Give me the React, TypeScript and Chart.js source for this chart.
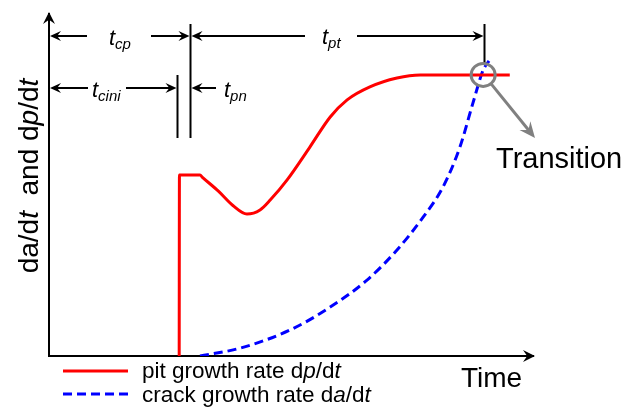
import React, { useEffect, useRef } from "react";
import { Chart, registerables } from "chart.js";

Chart.register(...registerables);

// ---- data (time in arbitrary units 0..100, rate in arbitrary units 0..100) ----
const pitTime = [26.9, 26.95, 31.2, 31.7, 35.0, 38.0, 40.9, 43.6, 45.7, 49.2, 53.9, 58.1, 61.6, 66.3, 71.9, 76.7, 95.2];
const pitRate = [0, 52.9, 52.9, 52.25, 48.2, 44.0, 41.5, 42.7, 45.6, 51.5, 61.1, 69.9, 74.9, 78.7, 81.3, 82.2, 82.2];
const crackTime = [31.2, 39.5, 49.8, 58.1, 65.7, 71.9, 77.3, 81.4, 84.9, 87.6, 89.7, 90.9];
const crackRate = [0, 2.3, 7.6, 14.3, 22.2, 31.0, 40.6, 49.4, 61.1, 74.0, 83.6, 86.3];
const seriesLabels = ["pit growth rate dp/dt", "crack growth rate da/dt"];
// characteristic times: end of t_cini, end of t_cp (= end of t_pn), end of t_pt
const markerTimes = [26.45, 29.13, 89.9];
const transitionPoint = [89.7, 82.2];

const FONT = '"Liberation Sans", Arial, Helvetica, sans-serif';
const RED = "#ff0000";
const BLUE = "#0000ff";
const GRAY = "#808080";

type Part = { t: string; i?: boolean; s?: number; dy?: number };

function rich(ctx: CanvasRenderingContext2D, x: number, y: number, parts: Part[], size: number) {
  let cx = x;
  for (const p of parts) {
    ctx.font = `${p.i ? "italic " : ""}${p.s || size}px ${FONT}`;
    ctx.fillText(p.t, cx, y + (p.dy || 0));
    cx += ctx.measureText(p.t).width;
  }
  return cx;
}
function richWidth(ctx: CanvasRenderingContext2D, parts: Part[], size: number) {
  let w = 0;
  for (const p of parts) {
    ctx.font = `${p.i ? "italic " : ""}${p.s || size}px ${FONT}`;
    w += ctx.measureText(p.t).width;
  }
  return w;
}

function head(ctx: CanvasRenderingContext2D, x: number, y: number, ang: number, color: string, len = 11, w = 10) {
  ctx.save();
  ctx.translate(x, y);
  ctx.rotate(ang);
  ctx.beginPath();
  ctx.moveTo(0, 0);
  ctx.lineTo(-len, -w / 2);
  ctx.lineTo(-len * 0.65, 0);
  ctx.lineTo(-len, w / 2);
  ctx.closePath();
  ctx.fillStyle = color;
  ctx.fill();
  ctx.restore();
}

function line(ctx: CanvasRenderingContext2D, x1: number, y1: number, x2: number, y2: number, color = "#000", w = 2) {
  ctx.beginPath();
  ctx.moveTo(x1, y1);
  ctx.lineTo(x2, y2);
  ctx.strokeStyle = color;
  ctx.lineWidth = w;
  ctx.stroke();
}

const annotationPlugin = {
  id: "schematic",
  afterDraw(chart: any) {
    const ctx: CanvasRenderingContext2D = chart.ctx;
    const xs = chart.scales.x;
    const ys = chart.scales.y;
    const ca = chart.chartArea;
    ctx.save();
    ctx.textBaseline = "alphabetic";
    ctx.fillStyle = "#000";

    // axis arrowheads
    head(ctx, ca.left, ca.top - 2, -Math.PI / 2, "#000", 12, 12);
    head(ctx, ca.right + 2, ca.bottom, 0, "#000", 12, 12);

    const xCini = Math.round(xs.getPixelForValue(markerTimes[0])) + 0.5;
    const xCp = Math.round(xs.getPixelForValue(markerTimes[1])) + 0.5;
    const xPt = Math.round(xs.getPixelForValue(markerTimes[2])) + 0.5;
    const left = ca.left;

    // vertical marker lines
    line(ctx, xCini, 75, xCini, 138);
    line(ctx, xCp, 24, xCp, 138);
    line(ctx, xPt, 24, xPt, 63);

    const r1 = 36;
    const r2 = 88;
    // row 1 : t_cp and t_pt
    line(ctx, left + 3, r1, 87, r1);
    head(ctx, left + 1, r1, Math.PI, "#000");
    line(ctx, 151, r1, xCp - 4, r1);
    head(ctx, xCp - 1, r1, 0, "#000");
    line(ctx, xCp + 4, r1, 305, r1);
    head(ctx, xCp + 1, r1, Math.PI, "#000");
    line(ctx, 357, r1, xPt - 4, r1);
    head(ctx, xPt - 1, r1, 0, "#000");

    // row 2 : t_cini and t_pn
    line(ctx, left + 3, r2, 88, r2);
    head(ctx, left + 1, r2, Math.PI, "#000");
    line(ctx, 126, r2, xCini - 4, r2);
    head(ctx, xCini - 1, r2, 0, "#000");
    line(ctx, xCp + 4, r2, 216, r2);
    head(ctx, xCp + 1, r2, Math.PI, "#000");

    ctx.fillStyle = "#000";
    rich(ctx, 109, 45, [{ t: "t", i: true }, { t: "cp", i: true, s: 15, dy: 4 }], 22);
    rich(ctx, 322, 44, [{ t: "t", i: true }, { t: "pt", i: true, s: 15, dy: 4 }], 22);
    rich(ctx, 92, 97, [{ t: "t", i: true }, { t: "cini", i: true, s: 15, dy: 4 }], 22);
    rich(ctx, 224, 97, [{ t: "t", i: true }, { t: "pn", i: true, s: 15, dy: 4 }], 22);

    // transition marker
    const cx = xs.getPixelForValue(transitionPoint[0]);
    const cy = ys.getPixelForValue(transitionPoint[1]);
    ctx.beginPath();
    ctx.ellipse(cx, cy, 12, 11.5, 0, 0, Math.PI * 2);
    ctx.strokeStyle = GRAY;
    ctx.lineWidth = 3;
    ctx.stroke();
    const tx = 535, ty = 138;
    const sx = cx + 8, sy = cy + 9;
    const ang = Math.atan2(ty - sy, tx - sx);
    line(ctx, sx, sy, tx - 8 * Math.cos(ang), ty - 8 * Math.sin(ang), GRAY, 3);
    head(ctx, tx, ty, ang, GRAY, 16, 14);
    ctx.fillStyle = "#000";
    ctx.font = `29px ${FONT}`;
    ctx.fillText("Transition", 496, 168);

    // axis titles
    ctx.font = `28px ${FONT}`;
    ctx.fillText("Time", 461, 387);
    const yParts: Part[] = [
      { t: "da/d" }, { t: "t", i: true }, { t: "  and d" }, { t: "p", i: true }, { t: "/d" }, { t: "t", i: true },
    ];
    const yw = richWidth(ctx, yParts, 28);
    ctx.save();
    ctx.translate(38, 176);
    ctx.rotate(-Math.PI / 2);
    rich(ctx, -yw / 2, 0, yParts, 28);
    ctx.restore();

    // legend
    const ds0 = chart.data.datasets[0];
    const ds1 = chart.data.datasets[1];
    ctx.save();
    ctx.strokeStyle = ds0.borderColor;
    ctx.lineWidth = 3;
    ctx.beginPath();
    ctx.moveTo(63, 371);
    ctx.lineTo(128, 371);
    ctx.stroke();
    ctx.strokeStyle = ds1.borderColor;
    ctx.setLineDash(ds1.borderDash);
    ctx.beginPath();
    ctx.moveTo(63, 394);
    ctx.lineTo(128, 394);
    ctx.stroke();
    ctx.restore();
    ctx.fillStyle = "#000";
    rich(ctx, 142, 378, [{ t: "pit growth rate d" }, { t: "p", i: true }, { t: "/d" }, { t: "t", i: true }], 22.5);
    rich(ctx, 142, 402, [{ t: "crack growth rate d" }, { t: "a", i: true }, { t: "/d" }, { t: "t", i: true }], 22.5);

    ctx.restore();
  },
};

export default function App() {
  const ref = useRef<HTMLCanvasElement | null>(null);
  useEffect(() => {
    document.body.style.margin = "0";
    const canvas = ref.current!;
    const chart = new Chart(canvas, {
      type: "line",
      data: {
        datasets: [
          {
            label: seriesLabels[0],
            data: pitTime.map((t, i) => ({ x: t, y: pitRate[i] })),
            borderColor: RED,
            borderWidth: 3,
            pointRadius: 0,
            cubicInterpolationMode: "monotone",
            fill: false,
          },
          {
            label: seriesLabels[1],
            data: crackTime.map((t, i) => ({ x: t, y: crackRate[i] })),
            borderColor: BLUE,
            borderWidth: 3,
            borderDash: [9, 5],
            pointRadius: 0,
            cubicInterpolationMode: "monotone",
            fill: false,
          },
        ],
      },
      options: {
        animation: false,
        responsive: false,
        devicePixelRatio: 1,
        layout: { padding: { left: 49, top: 14, right: 105, bottom: 51 } },
        plugins: { legend: { display: false }, tooltip: { enabled: false } },
        scales: {
          x: {
            type: "linear",
            min: 0,
            max: 100,
            grid: { display: false, drawTicks: false, tickLength: 0 },
            ticks: { display: false },
            border: { display: true, color: "#000", width: 2 },
          },
          y: {
            type: "linear",
            min: 0,
            max: 100,
            grid: { display: false, drawTicks: false, tickLength: 0 },
            ticks: { display: false },
            border: { display: true, color: "#000", width: 2 },
          },
        },
      },
      plugins: [annotationPlugin],
    } as any);
    return () => chart.destroy();
  }, []);
  return (
    <div style={{ position: "absolute", left: 0, top: 0, width: 638, height: 407, background: "#fff" }}>
      <canvas ref={ref} width={638} height={407} style={{ display: "block" }} />
    </div>
  );
}
